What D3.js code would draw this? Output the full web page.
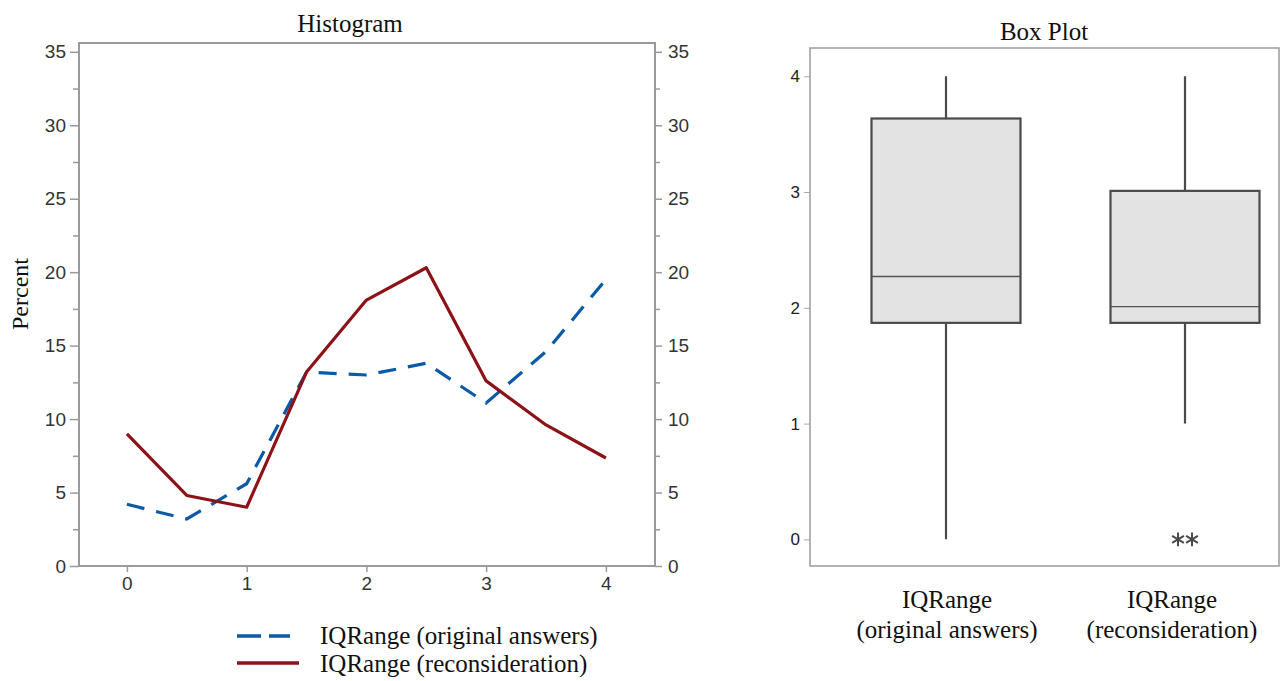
<!DOCTYPE html>
<html>
<head>
<meta charset="utf-8">
<script src="https://cdn.jsdelivr.net/npm/d3@7"></script>
<style>
  body { margin: 0; background: #fff; }
  .tick text { font-family: "Liberation Sans", Arial, sans-serif; fill: #333; }
  .serif { font-family: "Liberation Serif", "Times New Roman", serif; fill: #111; }
</style>
</head>
<body>
<script>
// histogram (frequency polygon) data
var binMids = [0, 0.5, 1, 1.5, 2, 2.5, 3, 3.5, 4];
var originalPct = [4.2, 3.2, 5.6, 13.2, 13.0, 13.8, 11.1, 14.6, 19.5];
var reconPct = [9.0, 4.8, 4.0, 13.2, 18.1, 20.3, 12.6, 9.6, 7.35];
var seriesNames = ["IQRange (original answers)", "IQRange (reconsideration)"];
var pctTicks = [0, 5, 10, 15, 20, 25, 30, 35];
var pctMinor = [2.5, 7.5, 12.5, 17.5, 22.5, 27.5, 32.5];
var xTicks = [0, 1, 2, 3, 4];

// box plot data
var boxCats = ["orig", "recon"];
var boxLabels = [["IQRange", "(original answers)"], ["IQRange", "(reconsideration)"]];
var boxLow = [0, 1];
var boxQ1 = [1.87, 1.87];
var boxMed = [2.27, 2.01];
var boxQ3 = [3.635, 3.01];
var boxHigh = [4.0, 4.0];
var boxOutliers = [[], [0, 0]];
var boxTicks = [0, 1, 2, 3, 4];

var width = 1280,
    height = 681;

var blue = "#0b5aa6",
    red = "#8c1218",
    frameCol = "#9a9a9a";

var svg = d3.select("body").append("svg")
    .attr("width", width)
    .attr("height", height);

svg.append("rect").attr("width", width).attr("height", height).attr("fill", "#fff");

// ---------- histogram ----------
var h = { left: 79, right: 655, top: 43, bottom: 566 };

var x = d3.scaleLinear().domain([-0.4, 4.41]).range([h.left, h.right]);
var y = d3.scaleLinear().domain([0, 35.6]).range([h.bottom, h.top]);

function styleAxis(g) {
    g.select(".domain").remove();
    g.selectAll(".tick line").attr("stroke", frameCol).attr("stroke-width", 1.5);
    g.selectAll(".tick text").style("font-size", "19px");
}

svg.append("g")
    .attr("transform", "translate(" + h.left + ",0)")
    .call(d3.axisLeft(y).tickValues(pctTicks).tickSize(9).tickPadding(4))
    .call(styleAxis);
svg.append("g")
    .attr("transform", "translate(" + h.left + ",0)")
    .call(d3.axisLeft(y).tickValues(pctMinor).tickSize(6).tickFormat(""))
    .call(styleAxis);
svg.append("g")
    .attr("transform", "translate(" + h.right + ",0)")
    .call(d3.axisRight(y).tickValues(pctTicks).tickSize(7).tickPadding(6))
    .call(styleAxis);
svg.append("g")
    .attr("transform", "translate(" + h.right + ",0)")
    .call(d3.axisRight(y).tickValues(pctMinor).tickSize(5).tickFormat(""))
    .call(styleAxis);
svg.append("g")
    .attr("transform", "translate(0," + h.bottom + ")")
    .call(d3.axisBottom(x).tickValues(xTicks).tickFormat(d3.format("d")).tickSize(6).tickPadding(5))
    .call(styleAxis);

svg.append("rect")
    .attr("x", h.left).attr("y", h.top)
    .attr("width", h.right - h.left).attr("height", h.bottom - h.top)
    .attr("fill", "none").attr("stroke", frameCol).attr("stroke-width", 2);

var line = d3.line()
    .x(function(d, i) { return x(binMids[i]); })
    .y(function(d) { return y(d); });

svg.append("path")
    .datum(originalPct)
    .attr("d", line)
    .attr("fill", "none")
    .attr("stroke", blue)
    .attr("stroke-width", 3.2)
    .attr("stroke-dasharray", "18,12");

svg.append("path")
    .datum(reconPct)
    .attr("d", line)
    .attr("fill", "none")
    .attr("stroke", red)
    .attr("stroke-width", 3.2)
    .attr("stroke-linejoin", "round");

svg.append("text").attr("class", "serif")
    .attr("x", 350).attr("y", 32)
    .attr("text-anchor", "middle")
    .style("font-size", "25px")
    .text("Histogram");

svg.append("text").attr("class", "serif")
    .attr("transform", "translate(28,294) rotate(-90)")
    .attr("text-anchor", "middle")
    .style("font-size", "24px")
    .text("Percent");

// legend
var legend = svg.append("g");
legend.append("line")
    .attr("x1", 237).attr("x2", 290).attr("y1", 636).attr("y2", 636)
    .attr("stroke", blue).attr("stroke-width", 3.5).attr("stroke-dasharray", "24,8");
legend.append("line")
    .attr("x1", 237).attr("x2", 299).attr("y1", 663).attr("y2", 663)
    .attr("stroke", red).attr("stroke-width", 3.5);
legend.selectAll("text")
    .data(seriesNames)
    .enter().append("text")
    .attr("class", "serif")
    .attr("x", 320)
    .attr("y", function(d, i) { return 644 + i * 28; })
    .style("font-size", "25px")
    .text(function(d) { return d; });

// ---------- box plot ----------
var b = { left: 810, right: 1279, top: 48, bottom: 566 };

var bx = d3.scalePoint().domain(boxCats).range([946, 1185]);
var labelX = d3.scalePoint().domain(boxCats).range([947, 1172]);
var by = d3.scaleLinear().domain([-0.23, 4.244]).range([b.bottom, b.top]);
var boxW = 149;

svg.append("g")
    .attr("transform", "translate(" + b.left + ",0)")
    .call(d3.axisLeft(by).tickValues(boxTicks).tickFormat(d3.format("d")).tickSize(6).tickPadding(4))
    .call(function(g) {
        g.select(".domain").remove();
        g.selectAll(".tick line").attr("stroke", "#aaa").attr("stroke-width", 1);
        g.selectAll(".tick text").style("font-size", "17px").style("fill", "#222");
    });

svg.append("rect")
    .attr("x", b.left).attr("y", b.top)
    .attr("width", b.right - b.left).attr("height", b.bottom - b.top)
    .attr("fill", "none").attr("stroke", frameCol).attr("stroke-width", 1.5);

var boxes = svg.selectAll(".box")
    .data(boxCats)
    .enter().append("g")
    .attr("class", "box");

boxes.append("line")
    .attr("x1", function(d) { return bx(d); })
    .attr("x2", function(d) { return bx(d); })
    .attr("y1", function(d, i) { return by(boxHigh[i]); })
    .attr("y2", function(d, i) { return by(boxLow[i]); })
    .attr("stroke", "#4a4a4a")
    .attr("stroke-width", 2.2);

boxes.append("rect")
    .attr("x", function(d) { return bx(d) - boxW / 2; })
    .attr("width", boxW)
    .attr("y", function(d, i) { return by(boxQ3[i]); })
    .attr("height", function(d, i) { return by(boxQ1[i]) - by(boxQ3[i]); })
    .attr("fill", "#e3e3e3")
    .attr("stroke", "#4a4a4a")
    .attr("stroke-width", 2.2);

boxes.append("line")
    .attr("x1", function(d) { return bx(d) - boxW / 2; })
    .attr("x2", function(d) { return bx(d) + boxW / 2; })
    .attr("y1", function(d, i) { return by(boxMed[i]); })
    .attr("y2", function(d, i) { return by(boxMed[i]); })
    .attr("stroke", "#555")
    .attr("stroke-width", 1.4);

var star = d3.symbol().type(d3.symbolAsterisk).size(130);
boxes.each(function(d, i) {
    d3.select(this).selectAll("path.out")
        .data(boxOutliers[i])
        .enter().append("path")
        .attr("class", "out")
        .attr("d", star)
        .attr("transform", function(v, j) {
            return "translate(" + (bx(d) - 7 + j * 14) + "," + by(v) + ")";
        })
        .attr("fill", "none")
        .attr("stroke", "#4a4a4a")
        .attr("stroke-width", 2);
});

boxes.append("text")
    .attr("class", "serif")
    .attr("x", function(d) { return labelX(d); })
    .attr("y", 608)
    .attr("text-anchor", "middle")
    .style("font-size", "25px")
    .selectAll("tspan")
    .data(function(d, i) { return boxLabels[i]; })
    .enter().append("tspan")
    .attr("x", function() { return d3.select(this.parentNode).attr("x"); })
    .attr("dy", function(d, i) { return i === 0 ? 0 : 30; })
    .text(function(d) { return d; });

svg.append("text").attr("class", "serif")
    .attr("x", 1044).attr("y", 40)
    .attr("text-anchor", "middle")
    .style("font-size", "25px")
    .text("Box Plot");
</script>
</body>
</html>
